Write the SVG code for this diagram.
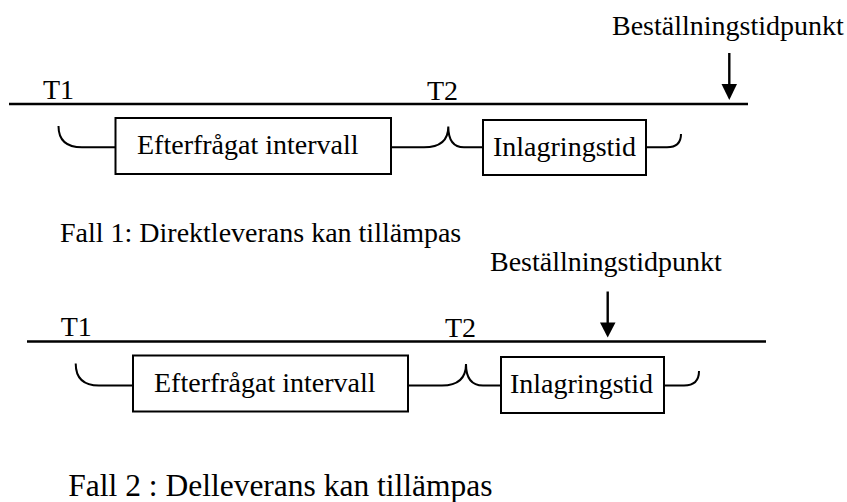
<svg xmlns="http://www.w3.org/2000/svg" width="847" height="502" viewBox="0 0 847 502">
<style>
text{font-family:"Liberation Serif","Times New Roman",serif;font-size:28px;fill:#000}
.tl{stroke:#000;stroke-width:2.6;fill:none}
.box{fill:#fff;stroke:#000;stroke-width:2}
.br{stroke:#000;stroke-width:2;fill:none}
.ar{stroke:#000;stroke-width:2.4;fill:none}
.big{font-size:31.5px}
</style>
<rect width="847" height="502" fill="#fff"/>
<g id="connectors">
<line class="tl" x1="9" y1="104" x2="748" y2="104"/>
<line class="tl" x1="27" y1="341.5" x2="766" y2="341.5"/>
<path class="br" d="M58.5,126 Q58.5,147.3 82,147.3 H115.5"/>
<path class="br" d="M391,147.3 H424 Q448.3,147.3 448.3,126.5 Q448.3,147.3 464,147.3 H483"/>
<path class="br" d="M646,147.3 H667 Q681,147.3 681,134"/>
<path class="br" d="M75.7,363.5 Q75.7,385.5 99,385.5 H133"/>
<path class="br" d="M408,385.5 H442 Q466,385.5 466,364 Q466,385.5 483,385.5 H501"/>
<path class="br" d="M664,385.5 H684 Q699,385.5 699,371"/>
<line class="ar" x1="729.3" y1="53" x2="729.3" y2="86"/>
<polygon points="721.5,84 737,84 729.3,100" fill="#000"/>
<line class="ar" x1="607.7" y1="291.5" x2="607.7" y2="324"/>
<polygon points="600,322.5 615.5,322.5 607.7,337.5" fill="#000"/>
</g>
<g id="case1">
<g id="c1-order"><text x="612" y="35">Beställningstidpunkt</text></g>
<g id="c1-t1"><text x="43" y="99">T1</text></g>
<g id="c1-t2"><text x="427" y="100">T2</text></g>
<g id="c1-interval"><rect class="box" x="115.5" y="118" width="275.5" height="56"/><text x="137" y="154">Efterfrågat intervall</text></g>
<g id="c1-storage"><rect class="box" x="483" y="120" width="163" height="55"/><text x="493" y="156">Inlagringstid</text></g>
<g id="c1-caption"><text x="60" y="241.7">Fall 1: Direktleverans kan tillämpas</text></g>
</g>
<g id="case2">
<g id="c2-order"><text x="490" y="270.7">Beställningstidpunkt</text></g>
<g id="c2-t1"><text x="60.7" y="336">T1</text></g>
<g id="c2-t2"><text x="445" y="337">T2</text></g>
<g id="c2-interval"><rect class="box" x="133" y="355.5" width="275" height="56"/><text x="154" y="391.7">Efterfrågat intervall</text></g>
<g id="c2-storage"><rect class="box" x="501" y="357" width="163" height="56"/><text x="510" y="392.7">Inlagringstid</text></g>
<g id="c2-caption"><text class="big" x="68.3" y="496">Fall 2 : Delleverans kan tillämpas</text></g>
</g>
</svg>
